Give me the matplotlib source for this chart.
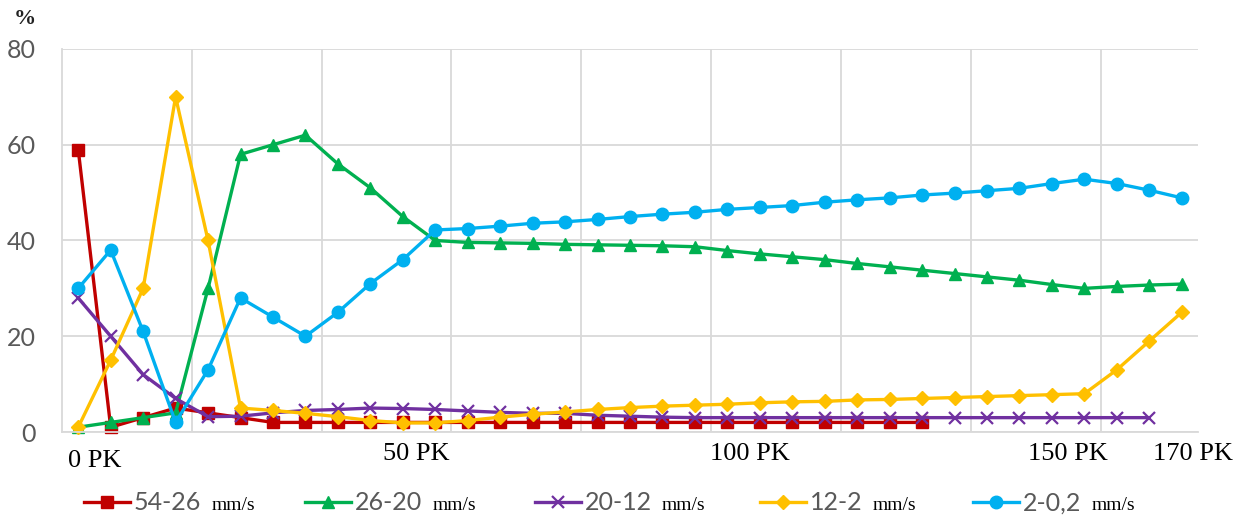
import matplotlib
matplotlib.use("Agg")
import matplotlib.pyplot as plt
from matplotlib.lines import Line2D
from matplotlib.transforms import IdentityTransform
from matplotlib.font_manager import FontProperties
import numpy as np

# ---- data ----
series_names = ["54-26", "26-20", "20-12", "12-2", "2-0,2"]
unit = "mm/s"
red_54_26 = [59, 1, 3, 5, 4, 3, 2, 2, 2, 2, 2, 2, 2, 2, 2, 2, 2, 2, 2, 2, 2, 2, 2, 2, 2, 2, 2]
green_26_20 = [1, 2, 3, 4, 30, 58, 60, 62, 56, 51, 45,
               40, 39.6, 39.5, 39.4, 39.2, 39.1, 39.0, 38.9, 38.7, 37.9, 37.2, 36.6,
               36.0, 35.2, 34.5, 33.8, 33.1, 32.4, 31.7, 30.8, 30.0, 30.4, 30.7, 30.9]
purple_20_12 = [28, 20, 12, 7, 3.2, 3.3, 4, 4.5, 4.7, 5.0, 4.9,
                4.7, 4.4, 4.1, 3.9, 3.9, 3.5, 3.3, 3.1,
                3, 3, 3, 3, 3, 3, 3, 3, 3, 3, 3, 3, 3, 3, 3]
yellow_12_2 = [1, 15, 30, 70, 40, 5, 4.5, 3.9, 3.2, 2.4, 1.9,
               1.9, 2.4, 3.1, 3.7, 4.2, 4.7, 5.1, 5.4, 5.6, 5.8, 6.1, 6.3,
               6.4, 6.7, 6.8, 7.0, 7.2, 7.4, 7.6, 7.8, 8.0, 13, 19, 25]
blue_2_02 = [30, 38, 21, 2, 13, 28, 24, 20, 25, 31, 36,
             42.2, 42.5, 43, 43.6, 43.9, 44.4, 45.0, 45.5, 45.9, 46.5, 46.9, 47.3,
             48.0, 48.5, 48.9, 49.5, 49.9, 50.4, 50.9, 51.9, 52.8, 51.9, 50.5, 48.9]
n_categories = 35
x_tick_labels = ["0 PK", "50 PK", "100 PK", "150 PK", "170 PK"]
x_tick_pos = [0.52, 10.42, 20.7, 30.48, 34.35]
y_ticks = [0, 20, 40, 60, 80]

colors = ["#C00000", "#00B050", "#7030A0", "#FFC000", "#00B0F0"]
markers = ["s", "^", "x", "D", "o"]
msizes = [8, 9, 8, 7, 9]
all_series = [red_54_26, green_26_20, purple_20_12, yellow_12_2, blue_2_02]

fig = plt.figure(figsize=(12.48, 5.18), dpi=100)
ax = fig.add_axes([62/1248, 1-432/518, (1198-62)/1248, (432-49)/518])

lines = []
for vals, c, m, ms in zip(all_series, colors, markers, msizes):
    x = np.arange(len(vals))
    ln, = ax.plot(x, vals, color=c, marker=m, markersize=ms, linewidth=2.4,
                  markeredgewidth=1.6 if m == "x" else 1.0, markeredgecolor=c,
                  clip_on=False)
    lines.append(ln)

ax.set_xlim(-0.5, n_categories - 0.5)
ax.set_ylim(0, 80)
ax.set_yticks(y_ticks)
ax.set_yticklabels([str(v) for v in y_ticks])
for lab in ax.get_yticklabels():
    lab.set_fontfamily("Lato")
    lab.set_fontsize(18)
    lab.set_color("#595959")
ax.tick_params(axis="y", length=0, pad=19)

ax.set_xticks(x_tick_pos)
ax.set_xticklabels(x_tick_labels, fontfamily="Liberation Serif", fontsize=19, color="black")
ax.tick_params(axis="x", which="major", length=0, pad=8)
ax.xaxis.get_major_ticks()[0].set_pad(13)
ax.set_xticks(np.arange(3.5, n_categories - 0.5, 4), minor=True)
ax.tick_params(axis="x", which="minor", length=0)

ax.grid(axis="y", which="major", color="#D9D9D9", linewidth=1.3)
ax.grid(axis="x", which="minor", color="#D9D9D9", linewidth=1.3)
ax.grid(axis="x", which="major", visible=False)
ax.set_axisbelow(True)
for s in ["top", "right"]:
    ax.spines[s].set_visible(False)
for s in ["left", "bottom"]:
    ax.spines[s].set_color("#D9D9D9")
    ax.spines[s].set_linewidth(1.3)

fig.text(14/1248, 1-24/518, "%", fontfamily="Liberation Serif", fontsize=16, fontweight="bold",
         color="#222222", va="baseline", ha="left")

# legend
leg_x = [84, 305, 535, 760, 973]
legs = []
for ln, name, lx in zip(lines, series_names, leg_x):
    h = Line2D([], [], color=ln.get_color(), marker=ln.get_marker(), markersize=ln.get_markersize(),
               linewidth=2.4, markeredgecolor=ln.get_color(),
               markeredgewidth=ln.get_markeredgewidth())
    lg = fig.legend(handles=[h], labels=[name], loc="center left",
                    bbox_to_anchor=(lx/1248, 1-503/518), frameon=False,
                    borderpad=0, borderaxespad=0, handlelength=1.85, handletextpad=0.15,
                    numpoints=1, prop=FontProperties(family="Lato", size=18))
    for t in lg.get_texts():
        t.set_color("#595959")
    legs.append(lg)

fig.canvas.draw()
renderer = fig.canvas.get_renderer()
_, _, d = renderer.get_text_width_height_descent("lp", FontProperties(family="Lato", size=18), ismath=False)
for lg in legs:
    t = lg.get_texts()[0]
    bb = t.get_window_extent(renderer)
    fig.text(bb.x1 + 10, bb.y0 + d, unit, transform=IdentityTransform(),
             fontfamily="Liberation Serif", fontsize=14, color="black", va="baseline", ha="left")

fig.savefig("out.png", dpi=100)
